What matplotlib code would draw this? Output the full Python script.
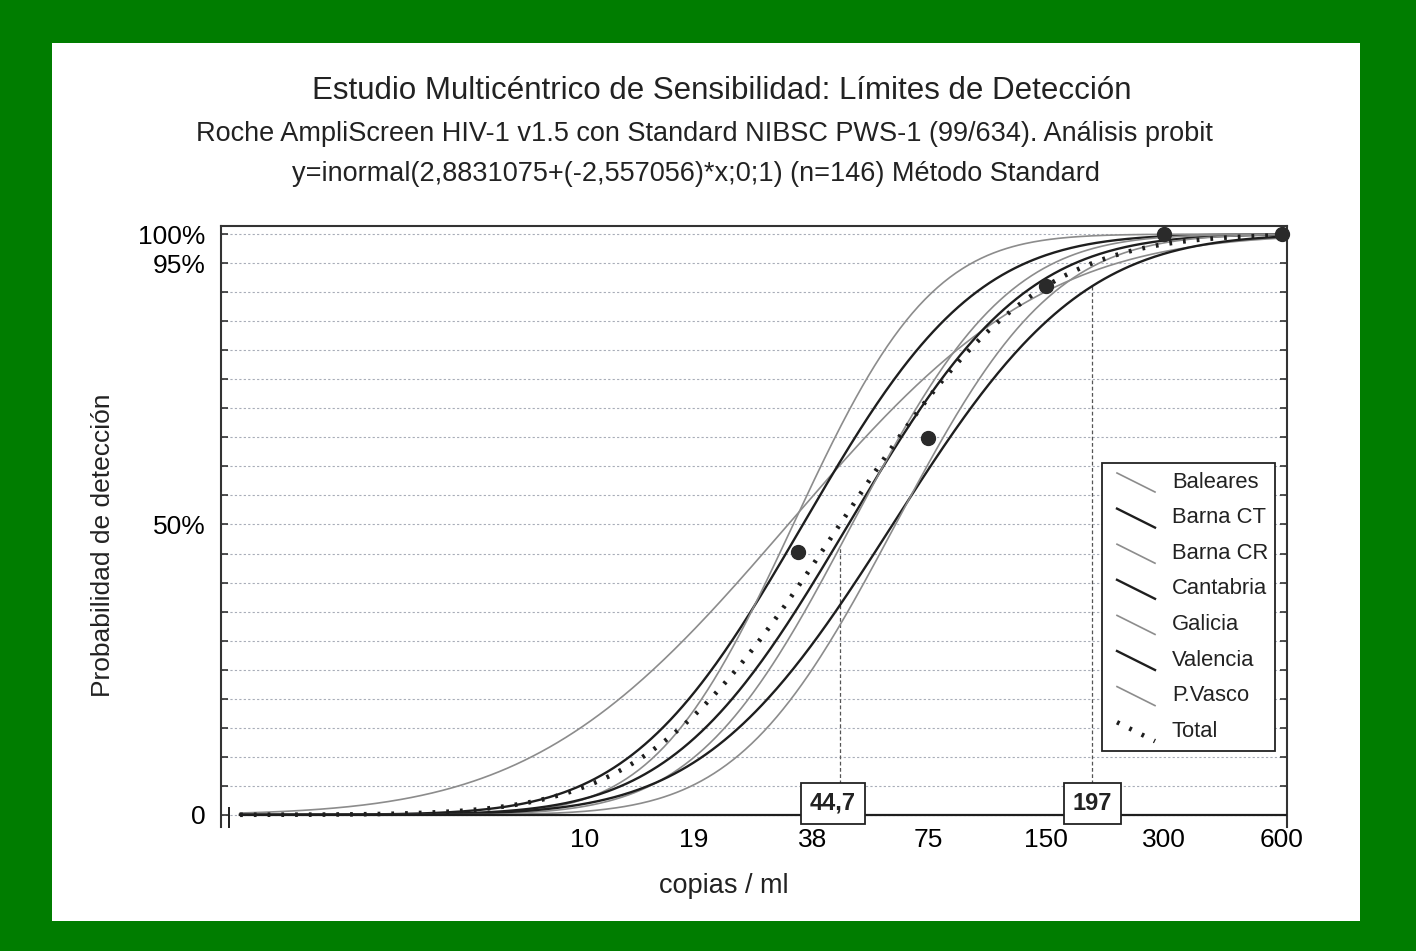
"""
Probit detection-limit chart for the multicentre HIV-1 sensitivity study.

One probit curve per centre plus the pooled ("Total") curve, with the
observed detection rates of the pooled panel and the 50 % / 95 % limits.
"""
import math

import numpy as np
import matplotlib

matplotlib.use("Agg")
import matplotlib.pyplot as plt
from matplotlib.patches import Rectangle

# ---------------------------------------------------------------------------
# Data
# ---------------------------------------------------------------------------

centres = ["Baleares", "Barna CT", "Barna CR", "Cantabria",
           "Galicia", "Valencia", "P.Vasco"]
# copies/ml at which each centre's probit curve crosses 50 % and 95 %
centre_c50 = [33, 36, 34, 47, 48, 61, 62]
centre_c95 = [228, 133, 97, 178, 157, 256, 205]
centre_dark = [False, True, False, True, False, True, False]

total_c50 = 44.7
total_c95 = 197

# observed detection rate (%) of the pooled panel
panel_copies = [35, 75, 150, 300, 600]
panel_rate = [45.3, 64.9, 91.0, 100, 100]

x_ticks = [10, 19, 38, 75, 150, 300, 600]
y_ticks = [0, 50, 95, 100]
y_tick_labels = ["0", "50%", "95%", "100%"]

limit_labels = ["44,7", "197"]
limit_copies = [44.7, 197]
limit_line_top = [46, 91]

title = "Estudio Multicéntrico de Sensibilidad: Límites de Detección"
subtitle1 = ("Roche AmpliScreen HIV-1 v1.5 con Standard NIBSC PWS-1 (99/634). "
             "Análisis probit")
subtitle2 = "y=inormal(2,8831075+(-2,557056)*x;0;1) (n=146) Método Standard"

# ---------------------------------------------------------------------------

Z95 = 1.6448536
_erf = np.vectorize(math.erf)

GREY = "#8c8c8c"
DARK = "#1e1e1e"
W, H = 1416, 951


def probit(x, c50, c95):
    """Detection probability (%) of a log10 probit curve."""
    slope = Z95 / (np.log10(c95) - np.log10(c50))
    z = slope * (np.log10(x) - np.log10(c50))
    return 50.0 * (1.0 + _erf(z / math.sqrt(2.0)))


plt.rcParams["font.family"] = ["Liberation Sans", "DejaVu Sans"]

fig = plt.figure(figsize=(W / 100, H / 100), dpi=100)
fig.patch.set_facecolor("#007d00")
fig.patches.append(Rectangle((52 / W, 1 - 921 / H), (1360 - 52) / W, (921 - 43) / H,
                             transform=fig.transFigure, facecolor="white",
                             edgecolor="none", zorder=-10))

# axes box in pixels: left 221, right 1287, top 226, bottom 827
ax = fig.add_axes([221 / W, 1 - 827 / H, (1287 - 221) / W, (827 - 226) / H])
ax.set_zorder(1)
ax.set_xscale("log")
ax.set_xlim(1.18, 618)
ax.set_ylim(-2.1, 101.4)

xs = np.geomspace(1.32, 600, 500)
for name, c50, c95, dark in zip(centres, centre_c50, centre_c95, centre_dark):
    ax.plot(xs, probit(xs, c50, c95), color=DARK if dark else GREY,
            lw=1.7 if dark else 1.2, zorder=3)
ax.plot(xs, probit(xs, total_c50, total_c95), color=DARK, lw=3.3,
        linestyle=(0, (0.6, 2.4)), zorder=4)

ax.plot(panel_copies, panel_rate, "o", ms=10, color="#2a2a2a", zorder=6,
        clip_on=False)

# baseline starts a little right of the broken y axis
ax.axhline(0, xmin=19 / 1066, color=DARK, lw=1.6, zorder=5)
ax.plot([8 / 1066, 8 / 1066], [0, 19 / 601], transform=ax.transAxes,
        color=DARK, lw=1.4, clip_on=False)

# detection limits
ax.vlines(limit_copies, 0, limit_line_top, colors="#555555", lw=0.9,
          linestyles=(0, (3, 2)), zorder=2)
for lab, c, dx in zip(limit_labels, limit_copies, [-7, 0]):
    ax.annotate(lab, (c, 2.0), xytext=(dx, 0), textcoords="offset pixels",
                ha="center", va="center", fontsize=17, fontweight="bold",
                color="#222222", zorder=7,
                bbox=dict(boxstyle="square,pad=0.38", fc="white", ec="#222222",
                          lw=1.3))

# axes styling
for side in ("left", "top", "right"):
    ax.spines[side].set_color("#333333")
    ax.spines[side].set_linewidth(1.5)
ax.spines["bottom"].set_visible(False)

ax.set_yticks(y_ticks)
ax.set_yticklabels(y_tick_labels)
ax.set_yticks(np.arange(5, 100, 5), minor=True)
ax.tick_params(axis="y", which="both", direction="in", right=True, length=5,
               width=1.2, color="#333333", labelsize=19, pad=11)
ax.yaxis.grid(True, which="both", linestyle=(0, (2, 2)), color="#a8adb8", lw=0.8)

ax.set_xticks(x_ticks)
ax.set_xticklabels([str(t) for t in x_ticks])
ax.xaxis.set_minor_locator(matplotlib.ticker.NullLocator())
ax.tick_params(axis="x", length=0, labelsize=19, pad=1)
ax.set_axisbelow(True)

# legend drawn by hand to get the diagonal line samples
lx0, lx1 = (1102 - 221) / 1066, (1275 - 221) / 1066
ly0, ly1 = (827 - 751) / 601, (827 - 463) / 601
ax.add_patch(Rectangle((lx0, ly0), lx1 - lx0, ly1 - ly0, transform=ax.transAxes,
                       facecolor="white", edgecolor="#222222", lw=1.3, zorder=8))
legend_rows = centres + ["Total"]
for i, name in enumerate(legend_rows):
    yc = 482 + i * 35.6
    xa = [(1117 - 221) / 1066, (1155 - 221) / 1066]
    ya = [(827 - yc + 9) / 601, (827 - yc - 10) / 601]
    if name == "Total":
        ax.plot(xa, ya, transform=ax.transAxes, color=DARK, lw=3.3,
                linestyle=(0, (0.6, 2.4)), zorder=9)
    else:
        dark = centre_dark[i]
        ax.plot(xa, ya, transform=ax.transAxes, color=DARK if dark else GREY,
                lw=1.7 if dark else 1.2, zorder=9)
    ax.text((1172 - 221) / 1066, (827 - yc) / 601, name, transform=ax.transAxes,
            ha="left", va="center", fontsize=15.8, color="#222222", zorder=9)

# titles and axis labels
fig.text(722 / W, 1 - 91 / H, title, ha="center", va="center", fontsize=22.5,
         color="#222222")
fig.text(704 / W, 1 - 134 / H, subtitle1, ha="center", va="center", fontsize=19.5,
         color="#222222")
fig.text(696 / W, 1 - 174 / H, subtitle2, ha="center", va="center", fontsize=19.5,
         color="#222222")
fig.text(103 / W, 1 - 545 / H, "Probabilidad de detección", rotation=90,
         ha="center", va="center", fontsize=19, color="#222222")
fig.text(724 / W, 1 - 886 / H, "copias / ml", ha="center", va="center",
         fontsize=19.5, color="#222222")

fig.savefig("out.png", dpi=100, facecolor=fig.get_facecolor())
